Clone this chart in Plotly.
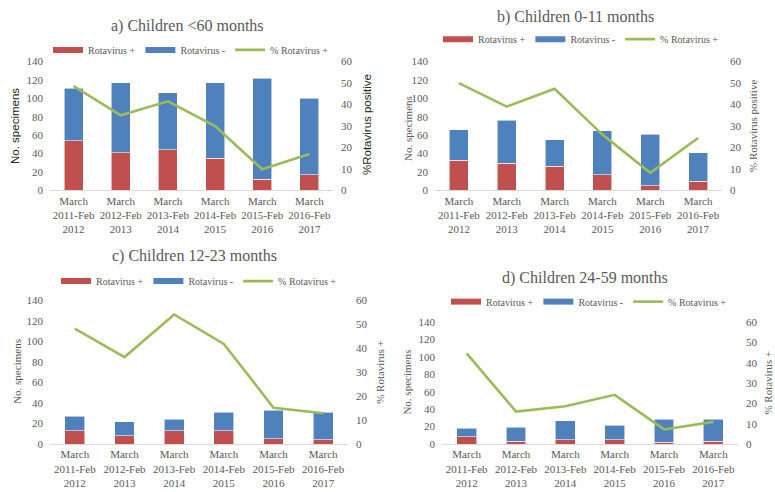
import plotly.graph_objects as go

W, H = 775, 492

periods = ["March<br>2011-Feb<br>2012", "March<br>2012-Feb<br>2013", "March<br>2013-Feb<br>2014",
           "March<br>2014-Feb<br>2015", "March<br>2015-Feb<br>2016", "March<br>2016-Feb<br>2017"]

# a) Children <60 months
a_pos = [54, 41, 44, 35, 12, 17]
a_neg = [57, 76, 62, 82, 110, 83]
a_pct = [48.6, 35.0, 41.5, 30.0, 9.8, 17.0]
# b) Children 0-11 months
b_pos = [33, 29.5, 26, 17, 5, 10]
b_neg = [33, 46.5, 29, 48, 56, 31]
b_pct = [50.0, 39.0, 47.3, 26.0, 8.2, 24.4]
# c) Children 12-23 months
c_pos = [13, 8, 13, 13, 5, 4]
c_neg = [14, 14, 11, 18, 28, 27]
c_pct = [48.3, 36.4, 54.2, 41.9, 15.2, 12.9]
# d) Children 24-59 months
d_pos = [8.5, 3.2, 5, 5, 2, 3.2]
d_neg = [9.5, 16.3, 22, 16.3, 26.5, 25.2]
d_pct = [44.6, 16.0, 18.6, 24.2, 7.2, 10.9]

titles = ["a) Children <60 months", "b) Children 0-11 months",
          "c) Children 12-23 months", "d) Children 24-59 months"]
legend_names = ["Rotavirus +", "Rotavirus -", "% Rotavirus +"]

RED, BLUE, GREEN = "#C0504D", "#4F81BD", "#9BBB59"
GREY = "#595959"
SERIF = "Liberation Serif"

def px(x):
    return x / W

def py(y):
    return 1 - y / H

panels = [
    dict(pos=a_pos, neg=a_neg, pct=a_pct, xd=(50, 333), yd=(189, 57),
         title=(187, 21), leg=(191, 45), lt=(15, 123), rt=(367, 122),
         ltxt="No. specimens", rtxt="%Rotavirus positive", sans=True),
    dict(pos=b_pos, neg=b_neg, pct=b_pct, xd=(435, 722), yd=(189, 57),
         title=(575, 11), leg=(581, 34), lt=(408, 126), rt=(753, 123),
         ltxt="No. specimens", rtxt="% Rotavirus positive", sans=False),
    dict(pos=c_pos, neg=c_neg, pct=c_pct, xd=(50, 348), yd=(449, 302),
         title=(195, 256), leg=(199, 282), lt=(17, 375), rt=(380, 375),
         ltxt="No. specimens", rtxt="% Rotavirus +", sans=False),
    dict(pos=d_pos, neg=d_neg, pct=d_pct, xd=(442, 738), yd=(449, 324),
         title=(585, 279), leg=(589, 303), lt=(407, 386), rt=(768, 386),
         ltxt="No. specimens", rtxt="% Rotavirus +", sans=False),
]

fig = go.Figure()
annotations = []
layout = {}

for i, p in enumerate(panels):
    xa = "x" if i == 0 else f"x{i+1}"
    yl = 2 * i + 1
    yr = 2 * i + 2
    ya_l = "y" if yl == 1 else f"y{yl}"
    ya_r = f"y{yr}"
    leg = "legend" if i == 0 else f"legend{i+1}"

    fig.add_trace(go.Bar(x=periods, y=p["pos"], marker_color=RED, width=0.4,
                         marker_line=dict(width=0.8, color="rgba(255,255,255,0.7)"),
                         xaxis=xa, yaxis=ya_l, showlegend=False, name=legend_names[0]))
    fig.add_trace(go.Bar(x=periods, y=p["neg"], marker_color=BLUE, width=0.4,
                         marker_line=dict(width=0.8, color="rgba(255,255,255,0.7)"),
                         xaxis=xa, yaxis=ya_l, showlegend=False, name=legend_names[1]))
    fig.add_trace(go.Scatter(x=periods, y=p["pct"], mode="lines",
                             line=dict(color=GREEN, width=2.6),
                             xaxis=xa, yaxis=ya_r, showlegend=False, name=legend_names[2]))
    # legend entries
    for nm, col, wd in zip(legend_names, [RED, BLUE, GREEN], [6, 6, 2.6]):
        fig.add_trace(go.Scatter(x=[None], y=[None], mode="lines", name=nm,
                                 line=dict(color=col, width=wd),
                                 xaxis=xa, yaxis=ya_l, legend=leg, showlegend=True))

    xkey = "xaxis" if i == 0 else f"xaxis{i+1}"
    ylkey = "yaxis" if yl == 1 else f"yaxis{yl}"
    yrkey = f"yaxis{yr}"
    layout[xkey] = dict(domain=[px(p["xd"][0]), px(p["xd"][1])], anchor=ya_l,
                        type="category", showline=True, linecolor="#D9D9D9", linewidth=1,
                        showgrid=False, ticks="", zeroline=False,
                        tickfont=dict(family=SERIF, size=11, color=GREY))
    layout[ylkey] = dict(domain=[py(p["yd"][0]), py(p["yd"][1])], anchor=xa,
                         range=[0, 140], dtick=20, showgrid=False, zeroline=False,
                         showline=False, ticks="", ticklabelstandoff=6,
                         tickfont=dict(family=SERIF, size=11, color=GREY))
    layout[yrkey] = dict(domain=[py(p["yd"][0]), py(p["yd"][1])], anchor=xa,
                         overlaying=ya_l, side="right",
                         range=[0, 60], dtick=10, showgrid=False, zeroline=False,
                         showline=False, ticks="", ticklabelstandoff=7,
                         tickfont=dict(family=SERIF, size=11, color=GREY))
    layout[leg] = dict(orientation="h", x=px(p["leg"][0]), y=py(p["leg"][1]),
                       xanchor="center", yanchor="middle", itemwidth=30,
                       traceorder="normal",
                       font=dict(family=SERIF, size=10, color=GREY),
                       bgcolor="rgba(0,0,0,0)", tracegroupgap=0)

    annotations.append(dict(text=titles[i], x=px(p["title"][0]), y=py(p["title"][1]),
                            xref="paper", yref="paper", showarrow=False,
                            xanchor="center", yanchor="middle",
                            font=dict(family=SERIF, size=16, color=GREY)))
    if p["sans"]:
        tfont = dict(family="Liberation Sans", size=11.5, color="#262626")
    else:
        tfont = dict(family=SERIF, size=11, color=GREY)
    annotations.append(dict(text=p["ltxt"], x=px(p["lt"][0]), y=py(p["lt"][1]),
                            xref="paper", yref="paper", showarrow=False, textangle=-90,
                            xanchor="center", yanchor="middle", font=tfont))
    annotations.append(dict(text=p["rtxt"], x=px(p["rt"][0]), y=py(p["rt"][1]),
                            xref="paper", yref="paper", showarrow=False, textangle=-90,
                            xanchor="center", yanchor="middle", font=tfont))

fig.update_layout(**layout)
fig.update_layout(width=W, height=H, margin=dict(l=0, r=0, t=0, b=0),
                  paper_bgcolor="white", plot_bgcolor="white",
                  barmode="stack", annotations=annotations)

fig.write_html("out.html")
